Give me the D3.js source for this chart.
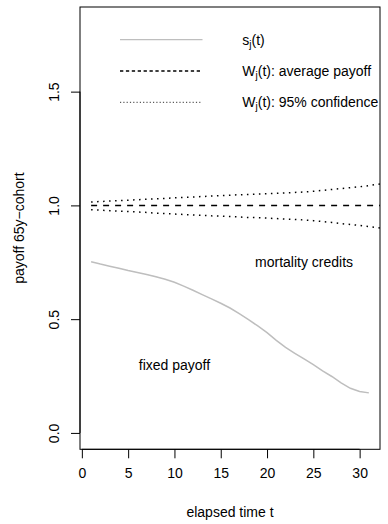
<!DOCTYPE html>
<html>
<head>
<meta charset="utf-8">
<script src="https://cdn.jsdelivr.net/npm/d3@7"></script>
<style>
  body { margin: 0; background: #fff; }
  svg text { font-family: "Liberation Sans", Arial, sans-serif; fill: #000; }
</style>
</head>
<body>
<div id="viz-container"></div>
<script>
// elapsed time (years) and the fixed payoff curve s_j(t)
const tFixed = [1,2,3,4,5,6,7,8,9,10,11,12,13,14,15,16,17,18,19,20,21,22,23,24,25,26,27,28,29,30,31];
const sValues = [0.752,0.742,0.733,0.724,0.714,0.705,0.696,0.686,0.675,0.662,0.645,0.627,0.608,0.589,0.570,
  0.549,0.524,0.498,0.470,0.441,0.407,0.376,0.350,0.325,0.300,0.273,0.248,0.220,0.196,0.182,0.176];

// average payoff W_j(t) and its 95% band (runs past the plot edge, gets clipped)
const tW = [1,2,3,4,5,6,7,8,9,10,11,12,13,14,15,16,17,18,19,20,21,22,23,24,25,26,27,28,29,30,31,32,33];
const wAvg = [1,1,1,1,1,1,1,1,1,1,1,1,1,1,1,1,1,1,1,1,1,1,1,1,1,1,1,1,1,1,1,1,1];
const wUpper = [1.015,1.017,1.019,1.021,1.023,1.025,1.027,1.029,1.031,1.033,1.035,1.037,1.039,1.041,1.043,
  1.045,1.047,1.048,1.050,1.051,1.053,1.055,1.057,1.059,1.062,1.066,1.070,1.074,1.078,1.082,1.087,1.093,1.099];
const wLower = [0.981,0.979,0.977,0.975,0.973,0.971,0.969,0.966,0.964,0.962,0.960,0.958,0.956,0.954,0.953,
  0.951,0.949,0.947,0.946,0.944,0.942,0.940,0.938,0.936,0.933,0.929,0.925,0.920,0.916,0.912,0.907,0.902,0.897];

const xTicks = [0,5,10,15,20,25,30];
const yTicks = [0.0,0.5,1.0,1.5];

const width = 388, height = 524;
const plotL = 80, plotR = 380, plotT = 7, plotB = 449.3;
const fs = 14;

const svg = d3.select("#viz-container").append("svg")
  .attr("width", width).attr("height", height);

// R style ranges: data range padded by 4% on each side
const x = d3.scaleLinear().domain([-0.2, 32.2]).range([plotL, plotR]);
const y = d3.scaleLinear().domain([-0.072, 1.872]).range([plotB, plotT]);

svg.append("clipPath").attr("id", "plotClip")
  .append("rect")
  .attr("x", plotL).attr("y", plotT)
  .attr("width", plotR - plotL).attr("height", plotB - plotT);

const plotArea = svg.append("g").attr("clip-path", "url(#plotClip)");

const line = d3.line().x(d => x(d[0])).y(d => y(d[1]));

plotArea.append("path")
  .datum(d3.zip(tFixed, sValues))
  .attr("d", line)
  .attr("fill", "none")
  .attr("stroke", "#bebebe")
  .attr("stroke-width", 1.5);

plotArea.append("path")
  .datum(d3.zip(tW, wAvg))
  .attr("d", line)
  .attr("fill", "none")
  .attr("stroke", "#000")
  .attr("stroke-width", 1.5)
  .attr("stroke-dasharray", "6,6");

[wUpper, wLower].forEach(band => {
  plotArea.append("path")
    .datum(d3.zip(tW, band))
    .attr("d", line)
    .attr("fill", "none")
    .attr("stroke", "#000")
    .attr("stroke-width", 1.5)
    .attr("stroke-dasharray", "1.5,4.5");
});

// box round the plot region
svg.append("rect")
  .attr("x", plotL).attr("y", plotT)
  .attr("width", plotR - plotL).attr("height", plotB - plotT)
  .attr("fill", "none").attr("stroke", "#000").attr("stroke-width", 1);

// x axis
const xAxis = svg.append("g")
  .attr("transform", `translate(0,${plotB})`)
  .call(d3.axisBottom(x).tickValues(xTicks).tickFormat(d3.format("d")).tickSize(9).tickPadding(10));
xAxis.select(".domain").attr("d", `M${x(0)},0H${x(30)}`);
xAxis.selectAll("text").style("font-size", fs + "px").style("font-family", "Liberation Sans, Arial, sans-serif");

// y axis, labels parallel to the axis
const yAxis = svg.append("g")
  .attr("transform", `translate(${plotL},0)`)
  .call(d3.axisLeft(y).tickValues(yTicks).tickFormat(d3.format(".1f")).tickSize(9));
yAxis.select(".domain").attr("d", `M0,${y(0)}V${y(1.5)}`);
yAxis.selectAll(".tick text")
  .attr("x", 0).attr("dy", null)
  .attr("transform", "translate(-25.7,0) rotate(-90)")
  .attr("text-anchor", "middle")
  .attr("dominant-baseline", "central")
  .style("font-size", fs + "px").style("font-family", "Liberation Sans, Arial, sans-serif");

// axis titles
svg.append("text")
  .attr("x", (plotL + plotR) / 2).attr("y", 511.7)
  .attr("text-anchor", "middle").attr("dominant-baseline", "central")
  .style("font-size", fs + "px")
  .text("elapsed time t");

svg.append("text")
  .attr("transform", `translate(18.5,${(plotT + plotB) / 2}) rotate(-90)`)
  .attr("text-anchor", "middle").attr("dominant-baseline", "central")
  .style("font-size", fs + "px")
  .text("payoff 65y\u2212cohort");

// annotations
svg.append("text")
  .attr("x", x(10)).attr("y", y(0.3))
  .attr("text-anchor", "middle").attr("dominant-baseline", "central")
  .style("font-size", fs + "px")
  .text("fixed payoff");

svg.append("text")
  .attr("x", x(24)).attr("y", y(0.75))
  .attr("text-anchor", "middle").attr("dominant-baseline", "central")
  .style("font-size", fs + "px")
  .text("mortality credits");

// legend, no box
const legendItems = [
  { name: "s", rest: "(t)", stroke: "#bebebe", width: 1.2, dash: null },
  { name: "W", rest: "(t): average payoff", stroke: "#000", width: 1.3, dash: "3.3,2.6" },
  { name: "W", rest: "(t): 95% confidence", stroke: "#333", width: 1, dash: "1.2,2.1" }
];
const legend = svg.append("g");
legendItems.forEach((item, i) => {
  const ly = 39.7 + i * 31.3;
  legend.append("line")
    .attr("x1", 120).attr("x2", 202.5)
    .attr("y1", ly).attr("y2", ly)
    .attr("stroke", item.stroke)
    .attr("stroke-width", item.width)
    .attr("stroke-dasharray", item.dash);
  const txt = legend.append("text")
    .attr("x", 242.3).attr("y", ly)
    .attr("dominant-baseline", "central")
    .style("font-size", fs + "px");
  txt.append("tspan").text(item.name);
  txt.append("tspan").attr("dy", 4).style("font-size", "10px").text("j");
  txt.append("tspan").attr("dy", -4).text(item.rest);
});
</script>
</body>
</html>
